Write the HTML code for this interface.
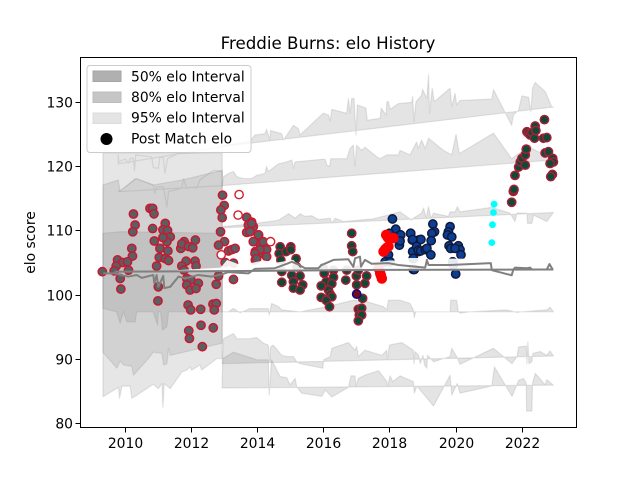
<!DOCTYPE html>
<html>
<head>
<meta charset="utf-8">
<title>Freddie Burns: elo History</title>
<style>
html,body{margin:0;padding:0;background:#fff;}
svg{display:block;font-family:"DejaVu Sans","Liberation Sans",sans-serif;}
</style>
</head>
<body>
<svg id="chart" width="640" height="480" viewBox="0 0 640 480" xmlns="http://www.w3.org/2000/svg">
<rect x="0" y="0" width="640" height="480" fill="#ffffff"/>
<text x="328" y="49" font-size="16.67" text-anchor="middle" fill="#000">Freddie Burns: elo History</text>
<text transform="translate(35,242.5) rotate(-90)" font-size="13.89" text-anchor="middle" fill="#000">elo score</text>
<g id="bands"></g>
<g id="dots"></g>
<g id="lines"></g>
<g id="axes"></g>
<g>
<rect x="87" y="65.5" width="164" height="87" rx="3" fill="#ffffff" fill-opacity="0.8" stroke="#cccccc" stroke-width="1"/>
<rect x="93" y="71" width="28" height="10.5" fill="#b0b0b0" stroke="#a6a6a6"/>
<text x="131" y="81.5" font-size="13.89" fill="#000">50% elo Interval</text>
<rect x="93" y="92" width="28" height="10.5" fill="#c6c6c6" stroke="#bcbcbc"/>
<text x="131" y="102" font-size="13.89" fill="#000">80% elo Interval</text>
<rect x="93" y="113" width="28" height="10.5" fill="#e4e4e4" stroke="#dcdcdc"/>
<text x="131" y="122.5" font-size="13.89" fill="#000">95% elo Interval</text>
<circle cx="106.5" cy="139" r="6" fill="#000"/>
<text x="131" y="143.5" font-size="13.89" fill="#000">Post Match elo</text>
</g>
</svg>
<script>
// ---- ticks ----
var xTicks = [2010, 2012, 2014, 2016, 2018, 2020, 2022];
var yTicks = [80, 90, 100, 110, 120, 130];

// ---- left block intervals ----
var wide95Years = [2009.35, 2012.95];
var wide95Upper = [122.1, 122.1];
var wide95LowYears = [2009.35,2009.82,2009.85,2009.92,2010.17,2010.22,2010.32,2010.87,2011.02,2011.13,2011.16,2011.2,2011.38,2011.73,2011.88,2011.98,2012.03,2012.28,2012.33,2012.79,2012.95];
var wide95Lower = [84.04,85.5,83.8,85.7,85.7,83.8,84.1,86,85.3,86.1,82.4,86.1,85.3,87.9,88.2,88.7,88.2,89,88.2,90,90];
var wide80Years = [2009.35,2009.81,2009.87,2010.32,2010.87,2011.73,2012.95];
var wide80Upper = [117.1,117.87,116.05,118.1,117.1,117.87,119.4];
var wide80LowYears = [2009.35,2009.77,2009.87,2009.97,2010.22,2010.27,2010.72,2010.87,2011.13,2011.18,2011.28,2011.33,2011.38,2012.95];
var wide80Lower = [90.96,88.5,89.6,89,88.8,87.4,90,91,90.8,89,89.2,91.6,90.5,92.4];
var wide50Years = [2009.35,2009.87,2012.95];
var wide50Upper = [109.55,109.8,109.55];
var wide50LowYears = [2009.35,2009.76,2009.87,2009.97,2010.07,2010.32,2010.37,2010.87,2011,2011.02,2011.09,2011.15,2011.28,2011.33,2011.63,2012.95];
var wide50Lower = [97.84,97.3,95.5,97.3,95.75,95.75,97.3,97.3,95.2,97.3,97.3,94.45,95,97.3,97.3,97.3];

// ---- outlines inside left block ----
var edgeAYears = [2009.81,2009.83,2010.02,2010.12,2010.17,2010.27,2010.3,2010.34,2010.82,2010.87,2011.02,2011.07,2011.17,2011.22,2011.3,2011.63,2012.95];
var edgeAElo = [121.8,120.7,121.15,120.5,121.25,121.25,119.3,121.8,121.5,119.8,119.7,121.4,121.4,118.9,121.25,122,122.3];
var edgeABaseYears = [2009.81, 2012.95];
var edgeABaseElo = [120.4, 123.1];
var edgeBYears = [2009.81,2010.37,2010.87,2010.92,2010.97,2011.17,2011.28,2011.33,2011.73,2011.78,2011.88,2012.03,2012.18,2012.28,2012.69,2012.95];
var edgeBElo = [116.05,118.1,117.1,115.8,116.8,116.8,113.7,116.05,116.6,118.1,116.6,116.8,116.6,117.9,119.4,119.2];
var edgeBBaseYears = [2009.81, 2012.95];
var edgeBBaseElo = [116.05, 117];

// ---- ribbon 1 ----
var r1Years = [2012.95,2013.79,2013.94,2014.24,2014.29,2014.39,2014.41,2014.75,2014.8,2015.1,2015.25,2015.3,2016.0,2016.16,2016.21,2016.26,2016.71,2016.76,2016.81,2016.86,2016.93,2016.99,2017.03,2017.29,2017.33,2017.72,2017.75,2017.9,2017.92,2017.97,2018.02,2018.27,2018.67,2018.7,2018.74,2018.8,2018.97,2019.0,2019.13,2019.18,2019.21,2019.29,2019.35,2019.83,2019.88,2019.98,2020.03,2020.13,2021.09,2021.14,2021.69,2021.74,2021.9,2022.0,2022.2,2022.27,2022.32,2022.4,2022.7,2022.9,2022.95];
var r1Top = [123.2,123.9,124.9,125.1,125.8,124.1,125.6,125.1,124.1,126.4,125.9,124.9,128.3,128.0,127.1,128.9,128.3,130.6,128.3,130.6,130.6,124.9,129.6,129.1,127.2,127.5,129.1,128.0,130.1,130.1,128.9,129.8,130,130.9,127,130.1,131.1,132,130.6,134.3,128.3,132.2,130.1,132.2,129.3,131.4,129.6,130.3,130.5,132,126.4,128,128.8,131,130.8,128.5,132.2,133.1,131.7,129.3,129.3];
var r1BaseYears = [2012.95, 2022.95];
var r1BaseElo = [123.1, 129.27];

// ---- ribbon 2 ----
var r2Years = [2012.95,2012.99,2013.14,2013.29,2013.39,2013.59,2013.84,2013.99,2014.24,2014.29,2014.34,2014.65,2014.9,2015.05,2015.1,2015.15,2015.95,2016.06,2016.11,2016.19,2016.23,2016.71,2016.81,2016.91,2016.96,2017.01,2017.16,2017.26,2017.62,2017.72,2017.92,2018.27,2018.32,2018.62,2018.82,2018.87,2018.97,2019.08,2019.18,2019.63,2019.88,2020.01,2020.11,2021.14,2021.69,2022.25,2022.3,2022.9,2022.95];
var r2Top = [117,118.4,118.9,119.2,118.4,118.1,118.1,118.6,118.9,120,119.2,120.4,120.7,121,119.7,120.7,121.1,121.1,120.2,120,121.2,121.2,122.8,123.3,120,123.3,122.5,123,121.5,121.2,121.8,121.8,122.5,121.8,123.8,122.8,124.1,122.8,124.4,122.5,121.8,125,122,125.2,121.2,123.3,122.8,121.2,121];
var r2BaseYears = [2012.95, 2022.95];
var r2BaseElo = [117, 121];

// ---- ribbon 3 ----
var r3Years = [2012.95,2013.79,2014.39,2014.65,2014.95,2015.05,2015.15,2015.3,2015.45,2015.65,2015.85,2016.21,2016.26,2016.36,2016.61,2017.5,2018.32,2018.67,2018.72,2018.97,2019.03,2019.11,2019.18,2019.25,2019.33,2019.78,2019.83,2019.98,2020.05,2020.13,2021.09,2021.64,2021.79,2021.85,2022.15,2022.17,2022.3,2022.35,2022.75,2022.95];
var r3Top = [110.6,111,111.4,111.6,112.6,112.3,111.9,112.6,112.2,112.3,111.7,111.9,111.1,111.9,111.4,111.8,112.9,111.6,111.9,112.7,113.5,111.9,113.7,111.9,112.7,112.2,112.9,112.9,113.7,112.9,113.6,112.7,111.4,112.7,112.7,111.1,111.1,112.4,111.4,112.8];
var r3BaseYears = [2012.95, 2022.95];
var r3BaseElo = [110.4, 112.8];

// ---- ribbon 4 ----
var r4Years = [2012.95,2013.14,2013.29,2013.49,2013.79,2014.34,2014.37,2014.44,2014.65,2014.75,2015.3,2016.11,2016.91,2017.31,2017.82,2017.92,2017.97,2018.32,2018.62,2018.72,2018.75,2018.79,2019.83,2019.85,2020.03,2020.08,2020.13,2020.44,2021.54,2021.85,2022.0,2022.75,2022.85,2022.95];
var r4Top = [97.3,97.3,97.84,97.16,97.8,97.8,96.8,98.6,98.1,97.6,97.3,98.1,99.1,98.9,98.1,97.6,99.1,99.1,98.6,97.6,96.4,97.3,97.3,99.1,99.1,97.3,97.1,97.3,97.6,97.2,97.3,97.6,98,97.3];
var r4BaseYears = [2012.95, 2022.95];
var r4BaseElo = [97.3, 97.3];

// ---- ribbon 5 ----
var r5Years = [2012.95,2012.99,2013.29,2013.39,2013.79,2013.99,2014.19,2014.34,2014.39,2014.41,2014.49,2014.75,2014.9,2015.1,2015.2,2015.3,2015.99,2016.01,2016.21,2016.26,2016.76,2016.96,2017.01,2017.06,2017.26,2017.77,2017.92,2017.94,2018.0,2018.37,2018.72,2018.74,2018.77,2018.88,2018.93,2019.01,2019.06,2019.13,2019.15,2019.28,2019.33,2019.83,2019.88,2020.03,2020.13,2021.14,2021.7,2021.85,2021.9,2022.13,2022.15,2022.18,2022.21,2022.3,2022.33,2022.55,2022.75,2022.85,2022.95];
var r5Top = [89.2,93.1,93.9,93.1,93.1,93.3,92.4,92.1,89.5,91.8,92.1,90.5,90.3,90.3,89.5,89.2,88.5,89.8,90.3,91.6,92.5,91.3,91.9,90.3,91.3,90.5,91.3,89.8,92.1,92.5,91.3,89.2,91.1,90.5,89.2,90.5,89,88.5,90.5,89.8,89.5,90.3,91.6,90.3,89.1,91.6,89.2,90.3,91.8,91.95,89.2,92.6,89.2,89.5,90.8,91.1,90.5,91.2,90.4];
var r5BaseYears = [2012.95, 2022.95];
var r5BaseElo = [89.2, 90.4];

// ---- ribbon 6 ----
var r6Years = [2012.95,2012.97,2013.29,2014,2014.34,2014.37,2014.44,2014.7,2014.9,2015.0,2015.15,2015.2,2015.35,2015.96,2016.06,2016.26,2016.76,2016.84,2016.96,2016.99,2017.06,2017.26,2017.67,2017.92,2017.94,2018.02,2018.1,2018.32,2018.72,2018.75,2018.83,2019.33,2019.83,2019.88,2020.05,2020.13,2021.09,2021.17,2021.7,2021.9,2022.05,2022.13,2022.14,2022.3,2022.32,2022.4,2022.7,2022.75,2022.95];
var r6Top = [86.6,90,91,89.8,89.8,84.3,89.8,87.2,87,85.9,86.9,85.6,84.6,84.1,85.1,84,85.5,87.3,87.3,85.6,86.9,87.4,88.1,86.4,85.6,87.3,86.4,87.3,86.4,84.6,85.7,82.6,87.4,84.3,86.1,84.6,85.7,88.7,84.1,86.6,86.9,86.1,81.8,81.8,86.1,87.7,85.9,86.7,85.85];
var r6BaseYears = [2012.95, 2022.95];
var r6BaseElo = [85.4, 85.85];

// ---- centre lines and white gap ----
var flatYears = [2009.7, 2013, 2018, 2022.95];
var flatElo = [103.55, 103.65, 103.85, 103.9];
var jagYears = [2009.36,2009.71,2009.87,2010.12,2010.37,2010.52,2010.87,2010.9,2010.97,2011.02,2011.17,2011.2,2011.38,2011.63,2011.83,2012.23,2012.63,2012.94,2013.14,2013.74,2013.94,2014.54,2014.9,2015.05,2015.2,2015.45,2015.85,2015.95,2016.31,2016.76,2016.91,2016.96,2017.11,2017.14,2017.26,2017.46,2017.97,2018.27,2019.08,2019.13,2019.18,2019.83,2021.06,2021.09,2021.69,2021.74,2021.79,2022.15,2022.25,2022.3,2022.75,2022.83,2022.93];
var jagElo = [103.3,103.3,103.05,102.8,103.05,102.6,103.05,101.75,103.05,101.2,102.9,101,101.2,102.8,102.5,103.05,102.8,103.15,103.5,103.3,104,104.1,104.8,105.1,104.8,104.1,104.1,104.6,105.4,105.5,104.3,105.65,105.9,104.35,105.4,104.8,104.9,104.6,104.2,105.4,104.6,104.6,104.9,103.8,103,103.9,104.2,104.1,104.2,103.9,103.9,104.75,103.9];
var gapYears = [2011.6,2012.9,2013.1,2013.5,2014.2,2014.6,2015.1,2015.3,2015.95,2016.3,2016.8,2017.1,2017.4,2018,2018.35,2018.6,2019.1,2019.3,2019.75,2020.3,2020.4];
var gapTop = [103.8,104.2,105.4,104.6,105.3,105,105.4,104.2,104.6,105.4,105.6,106,104.9,105.3,105.3,105.7,105.7,104.6,105.6,105.6,104.2];
var gapBaseYears = [2011.6, 2020.4];
var gapBaseElo = [103.6, 103.8];

// ---- post match points ----
var earlyYears = [2009.33,2010.27,2010.32,2010.25,2010.22,2010.24,2009.79,2009.94,2010.09,2009.75,2009.69,2010.12,2009.87,2009.89,2010.77,2010.85,2010.89,2010.85,2011.23,2011.16,2011.3,2011.38,2010.9,2011.28,2011.16,2011.07,2011.31,2011.05,2011.23,2011.33,2010.97,2011.02,2011.01,2011.8,2011.7,2011.73,2011.93,2012.06,2012.14,2011.86,2012.13,2012.16,2011.73,2011.8,2011.88,2012.01,2011.88,2012.23,2011.98,2012.16,2011.92,2012,2012.3,2012.67,2012.77,2012.71,2012.31,2012.68,2011.94,2011.96,2012.35];
var earlyElo = [103.56,112.57,110.85,109.8,107.2,106,105.4,105,105.1,104.45,103.7,103.8,102.5,100.85,113.45,113.45,112.6,110.3,111.1,110.1,110,109,108.35,108.25,108.9,107.2,106.8,105.8,105.6,105.3,104.45,101.2,99,108.25,107.2,107.9,107.5,107.3,108.5,105.2,105.2,104.45,104.45,103.8,102.5,102.25,101.5,101.75,100.7,100.95,98.36,97.6,97.7,98.5,98.6,97.6,95.2,94.8,94.35,93.15,91.85];
var midGreyYears = [2012.96,2013.01,2012.91,2012.95,2012.9,2013.02,2012.84,2013.14,2013.24,2013.34,2013.04,2013.29,2012.77,2013.29,2012.84,2013.69,2013.84,2013.74,2013.89,2013.69,2013.79,2014.05,2013.89,2014.08,2013.95,2014.05,2013.95,2013.84,2014.04,2013.89,2014.19,2014.29,2014.09,2013.94,2013.99,2014.29];
var midGreyElo = [115.5,113.9,113.2,112,109.8,108.25,107.7,106.8,107,107.2,105,104.9,101.6,102.35,102.9,112.05,111.3,110.85,110.6,109.7,109.8,109.3,108.25,108,106.7,106.3,105.4,111.1,109.3,108.25,108.25,107,107,106.4,105.6,105.9];
var hollowYears = [2013.46,2013.43,2012.92,2014.41];
var hollowElo = [115.6,112.4,106.2,108.25];
var greenYears = [2014.7,2015.02,2014.67,2014.88,2015.02,2015.18,2014.72,2014.75,2014.75,2015.05,2015.3,2015.1,2015.38,2015.1,2015.3,2015.2,2016.01,2016.03,2016.31,2016.31,2016.09,2016.26,2015.94,2016.16,2016.21,2016.26,2015.94,2016.09,2016.19,2016.86,2016.86,2016.89,2016.71,2016.68,2017,2017.01,2017.26,2017.31,2017.06,2017.19,2017.06,2017.16,2017.09,2017.16,2017.06];
var greenElo = [107.45,107.45,106.4,106.7,107,105.6,105.4,103.6,101.9,103,102.9,102,101.5,101,100.7,104.3,104.1,103.3,103.8,102.7,102,101.7,101.35,100.7,100.05,99.65,99.55,99.1,98.1,109.55,107.6,106.7,103.8,102.25,102.9,101.5,101.75,102.9,103.8,99.4,97.7,97.85,96.8,96.8,95.9];
var maroonYears = [2017.01];
var maroonElo = [100.07];
var redYears = [2017.67,2017.72,2017.77,2017.74,2017.82,2017.85,2017.88,2017.92,2017.97,2017.9,2017.95,2018.12];
var redElo = [104.1,103.3,102.5,103,106.7,106.9,107.1,107.3,107.5,109.3,108.9,108.8];
var blueYears = [2017.97,2017.87,2018.02,2018.09,2018.19,2018,2018.32,2018.22,2018.3,2018.64,2018.69,2018.88,2018.72,2018.88,2018.72,2018.72,2019.31,2019.36,2019.28,2019.26,2018.64,2018.7,2018.34,2018.32,2018.95,2018.7,2018.82,2018.87,2018.94,2019.08,2019.13,2019.25,2018.72,2018.75,2019.83,2019.78,2019.75,2019.88,2019.8,2019.85,2020.08,2020.13,2019.98,2020.16,2019.91,2019.93,2020];
var blueElo = [106.2,105.1,105.1,111.8,110.2,109.55,109.3,108.8,107.7,109.55,108.5,108.5,106.7,106.7,105.6,103.9,111,109.8,109.55,108.4,109.55,108.6,109.3,108.35,108.6,106.7,107.5,106.9,106.8,107,107.2,106.2,105.65,103.9,110.6,109.8,109.3,109,107.6,107.2,107.6,107,107.2,106.2,105.1,104.6,103.2];
var cyanYears = [2021.16,2021.14,2021.11,2021.09];
var cyanElo = [114.1,112.8,110.9,108.1];
var lateYears = [2021.74,2021.69,2021.76,2021.79,2021.9,2021.95,2022,2022.1,2022.1,2022.13,2022.15,2022.2,2022.25,2022.3,2022.38,2022.4,2022.42,2022.65,2022.68,2022.75,2022.7,2022.8,2022.93,2022.95,2022.85,2022.92,2022.87];
var lateElo = [116.1,114.4,116.4,118.6,119.9,120.7,121.25,120.2,121.8,122.7,125.4,125.15,124.9,125.25,124.4,126.3,125.6,124.4,127.3,124.5,122.1,122.3,121.25,120.7,120.45,118.75,118.4];

// ---- axis functions ----
function xAxis(year){ return 124.5 + (year - 2010) * 33.12; }
function yAxis(elo){ return 294.5 - (elo - 100) * 6.405; }

var NS = 'http://www.w3.org/2000/svg';
var bandsG = document.getElementById('bands');
var dotsG = document.getElementById('dots');
var linesG = document.getElementById('lines');
var axesG = document.getElementById('axes');

function pts(ys, es){
  var out = [];
  for (var i = 0; i < ys.length; i++){ out.push(xAxis(ys[i]).toFixed(2) + ',' + yAxis(es[i]).toFixed(2)); }
  return out;
}

function area(name, topY, topE, baseY, baseE, fillOp){
  var p = document.createElementNS(NS, 'polygon');
  
  
  p.setAttribute('points', pts(topY, topE).concat(pts(baseY, baseE).reverse()).join(' '));
  p.setAttribute('fill', '#808080');
  p.setAttribute('fill-opacity', fillOp);
  p.setAttribute('stroke', '#808080');
  p.setAttribute('stroke-opacity', '0.2');
  p.setAttribute('stroke-width', '1.2');
  p.setAttribute('stroke-linejoin', 'round');
  bandsG.appendChild(p);
}

area('band-95-wide', wide95Years, wide95Upper, wide95LowYears, wide95Lower, 0.2);
area('band-80-wide', wide80Years, wide80Upper, wide80LowYears, wide80Lower, 0.2);
area('band-50-wide', wide50Years, wide50Upper, wide50LowYears, wide50Lower, 0.2);
area('band-edge-upper-a', edgeAYears, edgeAElo, edgeABaseYears, edgeABaseElo, 0);
area('band-edge-upper-b', edgeBYears, edgeBElo, edgeBBaseYears, edgeBBaseElo, 0);
area('band-ribbon-1', r1Years, r1Top, r1BaseYears, r1BaseElo, 0.21);
area('band-ribbon-2', r2Years, r2Top, r2BaseYears, r2BaseElo, 0.21);
area('band-ribbon-3', r3Years, r3Top, r3BaseYears, r3BaseElo, 0.21);
area('band-ribbon-4', r4Years, r4Top, r4BaseYears, r4BaseElo, 0.21);
area('band-ribbon-5', r5Years, r5Top, r5BaseYears, r5BaseElo, 0.21);
area('band-ribbon-6', r6Years, r6Top, r6BaseYears, r6BaseElo, 0.21);

function scatter(name, ys, es, face, edge, r, sw){
  for (var i = 0; i < ys.length; i++){
    var c = document.createElementNS(NS, 'circle');
    
    
    c.setAttribute('cx', xAxis(ys[i]).toFixed(2));
    c.setAttribute('cy', yAxis(es[i]).toFixed(2));
    c.setAttribute('r', r);
    c.setAttribute('fill', face);
    c.setAttribute('stroke', edge);
    c.setAttribute('stroke-width', sw);
    dotsG.appendChild(c);
  }
}

scatter('point-early', earlyYears, earlyElo, '#596065', '#c8182e', 4.15, 1.5);
scatter('point-mid', midGreyYears, midGreyElo, '#596065', '#c8182e', 4.15, 1.5);
scatter('point-hollow', hollowYears, hollowElo, '#ffffff', '#d0202e', 4.15, 1.4);
scatter('point-green', greenYears, greenElo, '#0e4a38', '#a81e34', 4.15, 1.5);
scatter('point-blue', blueYears, blueElo, '#0b3f93', '#10193c', 4.15, 1.5);
scatter('point-red', redYears, redElo, '#ff0000', '#ff0000', 4.5, 1.5);
scatter('point-maroon', maroonYears, maroonElo, '#7a0c14', '#0a0a8c', 4.15, 1.5);
scatter('point-cyan', cyanYears, cyanElo, '#00ffff', '#00ffff', 2.8, 1.2);
scatter('point-late', lateYears, lateElo, '#0e4a38', '#a81e34', 4.15, 1.5);

var gap = document.createElementNS(NS, 'polygon');


gap.setAttribute('points', pts(gapYears, gapTop).concat(pts(gapBaseYears, gapBaseElo).reverse()).join(' '));
gap.setAttribute('fill', '#ffffff');
gap.setAttribute('fill-opacity', '0.9');
linesG.appendChild(gap);

function lineOf(name, ys, es){
  var l = document.createElementNS(NS, 'polyline');
  
  
  l.setAttribute('points', pts(ys, es).join(' '));
  l.setAttribute('fill', 'none');
  l.setAttribute('stroke', '#808080');
  l.setAttribute('stroke-width', '2');
  l.setAttribute('stroke-linejoin', 'round');
  linesG.appendChild(l);
}
lineOf('center-line-jagged', jagYears, jagElo);
lineOf('center-line-flat', flatYears, flatElo);

var frame = document.createElementNS(NS, 'rect');


frame.setAttribute('x', '80.5');
frame.setAttribute('y', '57.5');
frame.setAttribute('width', '496');
frame.setAttribute('height', '370');
frame.setAttribute('fill', 'none');
frame.setAttribute('stroke', '#000');
frame.setAttribute('stroke-width', '1');
axesG.appendChild(frame);

xTicks.forEach(function(t){
  var px = Math.round(xAxis(t)) + 0.5;
  var m = document.createElementNS(NS, 'line');
  
  
  m.setAttribute('x1', px);
  m.setAttribute('x2', px);
  m.setAttribute('y1', 427.5);
  m.setAttribute('y2', 432.5);
  m.setAttribute('stroke', '#000');
  axesG.appendChild(m);
  var s = document.createElementNS(NS, 'text');
  
  
  s.setAttribute('x', px);
  s.setAttribute('y', 448);
  s.setAttribute('font-size', '13.89');
  s.setAttribute('text-anchor', 'middle');
  s.textContent = t;
  axesG.appendChild(s);
});
yTicks.forEach(function(t){
  var py = Math.round(yAxis(t)) + 0.5;
  var m = document.createElementNS(NS, 'line');
  
  
  m.setAttribute('x1', 75.5);
  m.setAttribute('x2', 80.5);
  m.setAttribute('y1', py);
  m.setAttribute('y2', py);
  m.setAttribute('stroke', '#000');
  axesG.appendChild(m);
  var s = document.createElementNS(NS, 'text');
  
  
  s.setAttribute('x', 73);
  s.setAttribute('y', py + 5);
  s.setAttribute('font-size', '13.89');
  s.setAttribute('text-anchor', 'end');
  s.textContent = t;
  axesG.appendChild(s);
});
</script>
</body>
</html>
